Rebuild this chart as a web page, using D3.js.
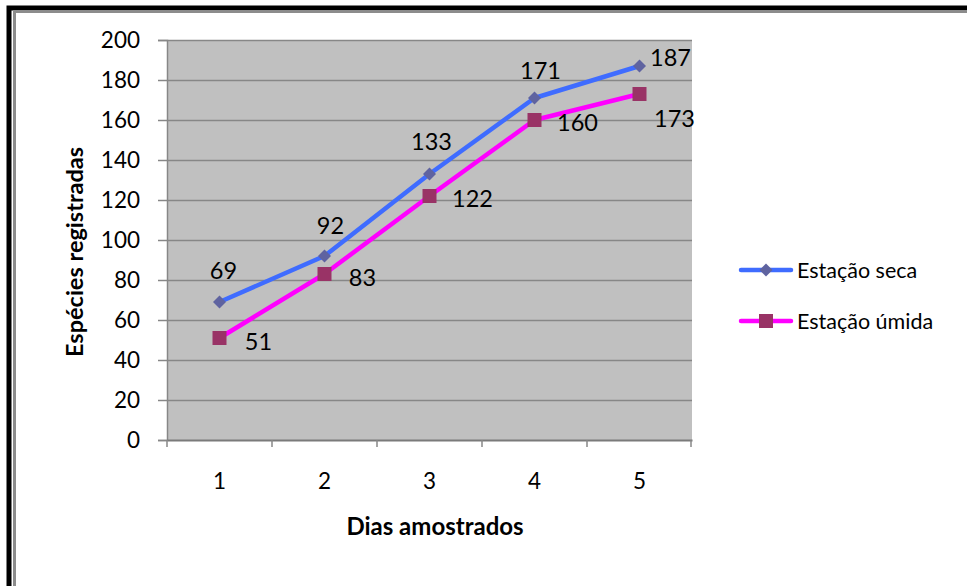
<!DOCTYPE html>
<html>
<head>
<meta charset="utf-8">
<script src="https://cdn.jsdelivr.net/npm/d3@7"></script>
<style>
  html, body { margin: 0; padding: 0; background: #fff; }
  svg { display: block; }
  text { font-family: Lato, "Open Sans", "DejaVu Sans", sans-serif; fill: #000; }
</style>
</head>
<body>
<svg id="chart" width="967" height="586"></svg>
<script>
// Dias amostrados
const days = ["1", "2", "3", "4", "5"];
// Espécies registradas por estação
const seca = [69, 92, 133, 171, 187];
const umida = [51, 83, 122, 160, 173];
const yTicks = [0, 20, 40, 60, 80, 100, 120, 140, 160, 180, 200];
const seriesNames = ["Estação seca", "Estação úmida"];

// label offsets (dx, dy) relative to each point
const secaLabelOffsets = [[4, -32], [6, -31], [2, -33], [6, -28], [31, -9]];
const umidaLabelOffsets = [[39, 3], [38, 3], [43, 2], [43, 2], [35, 24]];

const svg = d3.select("#chart");

// frame
svg.append("path").attr("d", "M9,600 V8 H980").attr("fill", "none")
  .attr("stroke", "#000").attr("stroke-width", 5);
svg.append("path").attr("d", "M14.5,600 V11.5 H980").attr("fill", "none")
  .attr("stroke", "#8c8c8c").attr("stroke-width", 3);

const plotLeft = 167, plotRight = 692, plotTop = 40, plotBottom = 440;

const x = d3.scaleBand().domain(days).range([plotLeft, plotRight]);
const y = d3.scaleLinear().domain([0, 200]).range([plotBottom, plotTop]);

// plot area
svg.append("rect").attr("x", plotLeft).attr("y", plotTop)
  .attr("width", plotRight - plotLeft).attr("height", plotBottom - plotTop)
  .attr("fill", "#c0c0c0");

// gridlines
svg.append("g").selectAll("line").data(yTicks.filter(d => d > 0)).join("line")
  .attr("x1", plotLeft).attr("x2", plotRight)
  .attr("y1", d => Math.round(y(d)) + 0.5).attr("y2", d => Math.round(y(d)) + 0.5)
  .attr("stroke", "#878787").attr("stroke-width", 1.5);

// y axis
const yAxis = svg.append("g").attr("transform", `translate(${plotLeft},0)`)
  .call(d3.axisLeft(y).tickValues(yTicks).tickSize(9).tickPadding(18));
yAxis.select(".domain").attr("stroke", "#878787").attr("stroke-width", 1.5);
yAxis.selectAll(".tick line").attr("stroke", "#878787").attr("stroke-width", 1.5);
yAxis.selectAll(".tick text").attr("font-size", 22.5).attr("font-family", "Lato, sans-serif");

// x axis
const xAxis = svg.append("g").attr("transform", `translate(0,${plotBottom})`)
  .call(d3.axisBottom(x).tickSize(0).tickPadding(33));
xAxis.select(".domain").attr("stroke", "#7a7a7a").attr("stroke-width", 2);
xAxis.selectAll(".tick text").attr("font-size", 22.5).attr("font-family", "Lato, sans-serif");
// tick marks at category boundaries
svg.append("g").selectAll("line").data(days).join("line")
  .attr("x1", d => x(d)).attr("x2", d => x(d))
  .attr("y1", plotBottom).attr("y2", plotBottom + 7)
  .attr("stroke", "#878787").attr("stroke-width", 1.5);
svg.append("line").attr("x1", plotRight - 1).attr("x2", plotRight - 1)
  .attr("y1", plotBottom).attr("y2", plotBottom + 7)
  .attr("stroke", "#878787").attr("stroke-width", 1.5);

const cx = d => x(d) + x.bandwidth() / 2;
const line = d3.line().x(d => cx(d[0])).y(d => y(d[1]));

const secaPts = days.map((d, i) => [d, seca[i]]);
const umidaPts = days.map((d, i) => [d, umida[i]]);

svg.append("path").datum(secaPts).attr("d", line)
  .attr("fill", "none").attr("stroke", "#3f6cff").attr("stroke-width", 4.5)
  .attr("stroke-linejoin", "round").attr("stroke-linecap", "round");
svg.append("path").datum(umidaPts).attr("d", line)
  .attr("fill", "none").attr("stroke", "#ff00ff").attr("stroke-width", 4.5)
  .attr("stroke-linejoin", "round").attr("stroke-linecap", "round");

const diamond = s => `M0,${-s} L${s},0 L0,${s} L${-s},0 Z`;

svg.append("g").selectAll("path").data(secaPts).join("path")
  .attr("transform", d => `translate(${cx(d[0])},${y(d[1])})`)
  .attr("d", diamond(6.5)).attr("fill", "#5f63a0");
svg.append("g").selectAll("rect").data(umidaPts).join("rect")
  .attr("x", d => cx(d[0]) - 7).attr("y", d => y(d[1]) - 7)
  .attr("width", 14).attr("height", 14).attr("fill", "#993366");

// data labels
svg.append("g").selectAll("text").data(secaPts).join("text")
  .attr("x", (d, i) => cx(d[0]) + secaLabelOffsets[i][0])
  .attr("y", (d, i) => y(d[1]) + secaLabelOffsets[i][1])
  .attr("text-anchor", "middle").attr("dominant-baseline", "central")
  .attr("font-size", 23.5).text(d => d[1]);
svg.append("g").selectAll("text").data(umidaPts).join("text")
  .attr("x", (d, i) => cx(d[0]) + umidaLabelOffsets[i][0])
  .attr("y", (d, i) => y(d[1]) + umidaLabelOffsets[i][1])
  .attr("text-anchor", "middle").attr("dominant-baseline", "central")
  .attr("font-size", 23.5).text(d => d[1]);

// axis titles
svg.append("text").attr("x", 435).attr("y", 525)
  .attr("text-anchor", "middle").attr("dominant-baseline", "central")
  .attr("font-size", 24).attr("font-weight", "bold").text("Dias amostrados");
svg.append("text").attr("transform", "translate(74,252) rotate(-90)")
  .attr("text-anchor", "middle").attr("dominant-baseline", "central")
  .attr("font-size", 23.5).attr("font-weight", "bold").text("Espécies registradas");

// legend
const legend = svg.append("g");
const legendY = [270, 321];
legendY.forEach((ly, i) => {
  legend.append("line").attr("x1", 741).attr("x2", 791).attr("y1", ly).attr("y2", ly)
    .attr("stroke", i === 0 ? "#3f6cff" : "#ff00ff").attr("stroke-width", 4.5)
    .attr("stroke-linecap", "round");
  if (i === 0) {
    legend.append("path").attr("transform", `translate(766,${ly})`)
      .attr("d", diamond(6.5)).attr("fill", "#5f63a0");
  } else {
    legend.append("rect").attr("x", 759).attr("y", ly - 7).attr("width", 14).attr("height", 14)
      .attr("fill", "#993366");
  }
  legend.append("text").attr("x", 797).attr("y", ly).attr("dominant-baseline", "central")
    .attr("font-size", 21.5).text(seriesNames[i]);
});
</script>
</body>
</html>
